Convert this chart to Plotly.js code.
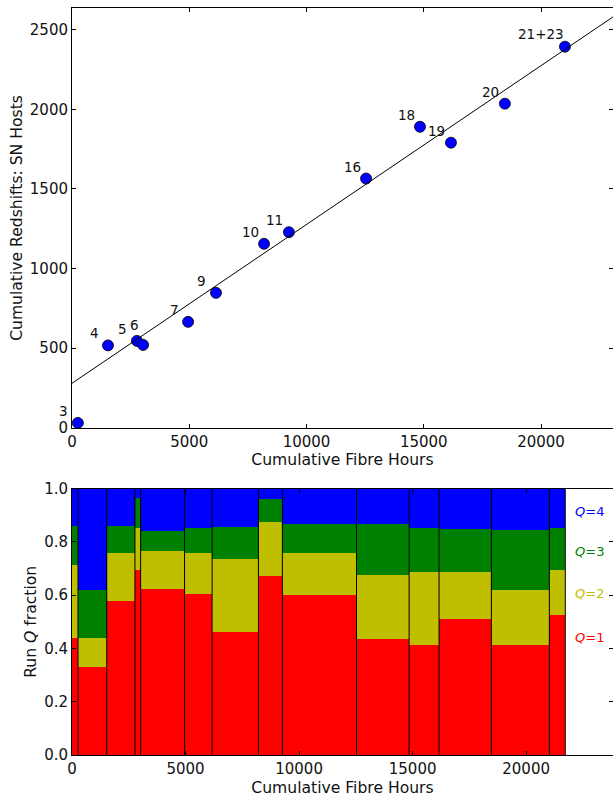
<!DOCTYPE html>
<html>
<head>
<meta charset="utf-8">
<script src="https://cdn.plot.ly/plotly-3.0.1.min.js"></script>
<style>
  html, body { margin: 0; padding: 0; background: #fff; overflow: hidden; }
  #chart { width: 613px; height: 797px; }
</style>
</head>
<body>
<div id="chart"></div>
<script>
// top panel: cumulative redshifts per run
const runLabels = ['3', '4', '5', '6', '7', '9', '10', '11', '16', '18', '19', '20', '21+23'];
const fibreHours = [250, 1535, 2770, 3030, 4950, 6140, 8190, 9250, 12540, 14840, 16160, 18460, 21020];
const snHosts = [30, 517, 545, 520, 665, 847, 1155, 1228, 1565, 1890, 1790, 2035, 2393];
const fitHours = [0, 23070];
const fitHosts = [279, 2580];

// bottom panel: Q fractions per run, runEdges has one more entry than the fractions
const runEdges = [0, 264, 1530, 2772, 3022, 4957, 6170, 8210, 9265, 12530, 14846, 16165, 18468, 21022, 21725];
const q1 = [0.44, 0.33, 0.578, 0.695, 0.625, 0.603, 0.461, 0.671, 0.60, 0.436, 0.4125, 0.51, 0.4125, 0.524];
const q2 = [0.275, 0.111, 0.181, 0.158, 0.14, 0.156, 0.275, 0.205, 0.159, 0.239, 0.2735, 0.176, 0.2065, 0.17];
const q3 = [0.144, 0.18, 0.101, 0.111, 0.075, 0.095, 0.119, 0.084, 0.107, 0.191, 0.168, 0.162, 0.225, 0.159];
const q4 = [0.141, 0.379, 0.14, 0.036, 0.16, 0.146, 0.145, 0.04, 0.134, 0.134, 0.146, 0.152, 0.156, 0.147];
const qNames = ['Q=1', 'Q=2', 'Q=3', 'Q=4'];
const qColors = ['#ff0000', '#bfbf00', '#008000', '#0000ff'];
const qLabelY = [0.44, 0.608, 0.766, 0.916];

const font = 'DejaVu Sans, sans-serif';
const ink = '#111';

const W = 613, H = 797;
const topDomain = [(H - 427.7) / H, (H - 8.3) / H];
const botDomain = [(H - 755) / H, (H - 488.7) / H];

const starts = runEdges.slice(0, -1);
const widths = starts.map((s, i) => runEdges[i + 1] - s);

const traces = [
  {
    x: fibreHours, y: snHosts, type: 'scatter', mode: 'markers', cliponaxis: false,
    marker: { color: '#0000ff', size: 11, line: { color: '#000', width: 0.8 } },
    hoverinfo: 'skip'
  },
  {
    x: fitHours, y: fitHosts, type: 'scatter', mode: 'lines',
    line: { color: '#000', width: 1 }, hoverinfo: 'skip'
  }
];

[q1, q2, q3, q4].forEach((q, i) => {
  traces.push({
    x: starts, y: q, width: widths, offset: 0, type: 'bar', xaxis: 'x2', yaxis: 'y2',
    name: qNames[i], marker: { color: qColors[i], line: { width: 0 } }, hoverinfo: 'skip'
  });
});

// black separators between runs
const sepX = [], sepY = [];
runEdges.slice(1).forEach(e => { sepX.push(e, e, null); sepY.push(0, 1, null); });
traces.push({
  x: sepX, y: sepY, type: 'scatter', mode: 'lines', xaxis: 'x2', yaxis: 'y2',
  line: { color: '#000', width: 1 }, hoverinfo: 'skip'
});

// labels sit up and left of their point, 6 and 21+23 are moved further
const labelShift = { '6': [-9, 20], '21+23': [-24, 13] };
const annotations = runLabels.map((t, i) => {
  const s = labelShift[t] || [-14, 12];
  return {
    x: fibreHours[i], y: snHosts[i], xref: 'x', yref: 'y', text: t, showarrow: false,
    xshift: s[0], yshift: s[1], font: { family: font, size: 13.5, color: ink }
  };
});
qNames.forEach((n, i) => {
  annotations.push({
    x: 22070, y: qLabelY[i], xref: 'x2', yref: 'y2', xanchor: 'left', showarrow: false,
    text: '<i>Q</i>=' + n.slice(2),
    font: { family: font, size: 13, color: qColors[i] }
  });
});

const axisBase = {
  showgrid: false, zeroline: false, showline: true, linecolor: '#000', linewidth: 1,
  mirror: 'ticks', ticks: 'inside', ticklen: 4, tickcolor: '#000', tickwidth: 1,
  tickfont: { family: font, size: 15, color: ink }
};
const titleFont = { family: font, size: 15.6, color: ink };
const hourTicks = [0, 5000, 10000, 15000, 20000];

const layout = {
  width: W, height: H, margin: { l: 0, r: 0, t: 0, b: 0 },
  paper_bgcolor: '#fff', plot_bgcolor: '#fff', showlegend: false,
  barmode: 'stack', bargap: 0,
  xaxis: {
    ...axisBase, domain: [72 / W, 1], range: [0, 23070], tickvals: hourTicks, tickformat: 'd',
    anchor: 'y', title: { text: 'Cumulative Fibre Hours', font: titleFont, standoff: 4 }
  },
  yaxis: {
    ...axisBase, domain: topDomain, range: [0, 2634], tickvals: [0, 500, 1000, 1500, 2000, 2500],
    tickformat: 'd', anchor: 'x',
    title: { text: 'Cumulative Redshifts: SN Hosts', font: titleFont, standoff: 3 }
  },
  xaxis2: {
    ...axisBase, domain: [72 / W, 1], range: [0, 23825], tickvals: hourTicks, tickformat: 'd',
    anchor: 'y2', title: { text: 'Cumulative Fibre Hours', font: titleFont, standoff: 6 }
  },
  yaxis2: {
    ...axisBase, domain: botDomain, range: [0, 1], tickvals: [0, 0.2, 0.4, 0.6, 0.8, 1],
    tickformat: '.1f', anchor: 'x2',
    title: { text: 'Run <i>Q</i> fraction', font: titleFont, standoff: 3 }
  },
  annotations: annotations
};

Plotly.newPlot('chart', traces, layout, { staticPlot: true, displayModeBar: false });
</script>
</body>
</html>
